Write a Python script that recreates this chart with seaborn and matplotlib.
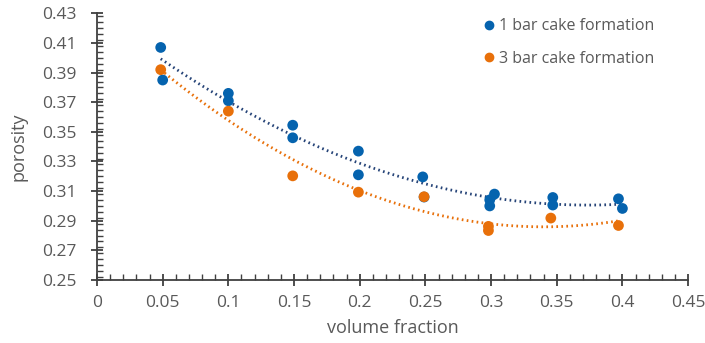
import numpy as np
import pandas as pd
import matplotlib
matplotlib.use("Agg")
import matplotlib.pyplot as plt
import seaborn as sns
from matplotlib.ticker import MultipleLocator, FormatStrFormatter
from matplotlib.lines import Line2D

# ---- data ----
x_1bar = [0.0485, 0.05, 0.1, 0.1, 0.149, 0.149, 0.199, 0.199, 0.248, 0.249,
          0.299, 0.299, 0.3026, 0.347, 0.347, 0.397, 0.4]
y_1bar = [0.407, 0.385, 0.376, 0.371, 0.3545, 0.346, 0.337, 0.321, 0.3196, 0.306,
          0.3041, 0.300, 0.308, 0.3057, 0.3006, 0.3048, 0.2983]
x_3bar = [0.0485, 0.1, 0.149, 0.199, 0.249, 0.298, 0.298, 0.3455, 0.397]
y_3bar = [0.392, 0.364, 0.3203, 0.3093, 0.3062, 0.2862, 0.2834, 0.2918, 0.2868]
series_names = ["1 bar cake formation", "3 bar cake formation"]
x_ticks = [0, 0.05, 0.1, 0.15, 0.2, 0.25, 0.3, 0.35, 0.4, 0.45]
x_tick_labels = ["0", "0.05", "0.1", "0.15", "0.2", "0.25", "0.3", "0.35", "0.4", "0.45"]

blue = "#0563AE"
orange = "#E8700A"
blue_trend = "#264478"
orange_trend = "#E8700A"
grey = "#595959"

df = pd.DataFrame({
    "x": x_1bar + x_3bar,
    "y": y_1bar + y_3bar,
    "series": [series_names[0]] * len(x_1bar) + [series_names[1]] * len(x_3bar),
})

sns.set_theme(style="white")
plt.rcParams["font.family"] = ["Open Sans", "DejaVu Sans"]

fig = plt.figure(figsize=(7.05, 3.43), dpi=100)
ax = fig.add_axes([0.1376, 0.1837, 0.976 - 0.1376, 0.961 - 0.1837])

sns.scatterplot(data=df, x="x", y="y", hue="series", palette=[blue, orange],
                s=60, edgecolor="none", ax=ax, zorder=3, legend=False)

# polynomial (order 2) trendlines
for xs, ys, c in [(x_1bar, y_1bar, blue_trend), (x_3bar, y_3bar, orange_trend)]:
    coef = np.polyfit(xs, ys, 2)
    xx = np.linspace(min(xs), max(xs), 200)
    ax.plot(xx, np.polyval(coef, xx), color=c, lw=2.0, linestyle=(0, (0.6, 1.2)),
            dash_capstyle="butt", zorder=2)

ax.set_xlim(0, 0.45)
ax.set_ylim(0.25, 0.43)
ax.set_xticks(x_ticks)
ax.set_xticklabels(x_tick_labels)
ax.set_yticks(np.arange(0.25, 0.4301, 0.02))
ax.yaxis.set_major_formatter(FormatStrFormatter("%.2f"))
ax.xaxis.set_minor_locator(MultipleLocator(0.01))
ax.yaxis.set_minor_locator(MultipleLocator(0.004))

for s in ["top", "right"]:
    ax.spines[s].set_visible(False)
for s in ["left", "bottom"]:
    ax.spines[s].set_color("#404040")
    ax.spines[s].set_linewidth(1.3)

ax.tick_params(axis="both", which="both", bottom=True, left=True, top=False, right=False)
ax.tick_params(axis="both", which="major", direction="inout", length=9, width=1.3,
               color="#404040", labelsize=12.5, labelcolor=grey)
ax.tick_params(axis="both", which="minor", direction="in", length=4, width=1.0,
               color="#404040")
ax.tick_params(axis="x", which="major", pad=6)
ax.tick_params(axis="y", which="major", pad=10)

ax.set_xlabel("volume fraction", fontsize=13, color=grey, labelpad=6)
ax.set_ylabel("porosity", fontsize=13, color=grey, labelpad=11)

handles = [Line2D([], [], marker="o", linestyle="none", color=c, markersize=6)
           for c in [blue, orange]]
leg = ax.legend(handles, series_names, loc="upper left", bbox_to_anchor=(0.641, 1.012),
                frameon=False, fontsize=11.5, labelspacing=1.05, handlelength=0.6,
                handletextpad=0.35, borderaxespad=0.1)
for t in leg.get_texts():
    t.set_color(grey)

fig.savefig("out.png", dpi=100)
